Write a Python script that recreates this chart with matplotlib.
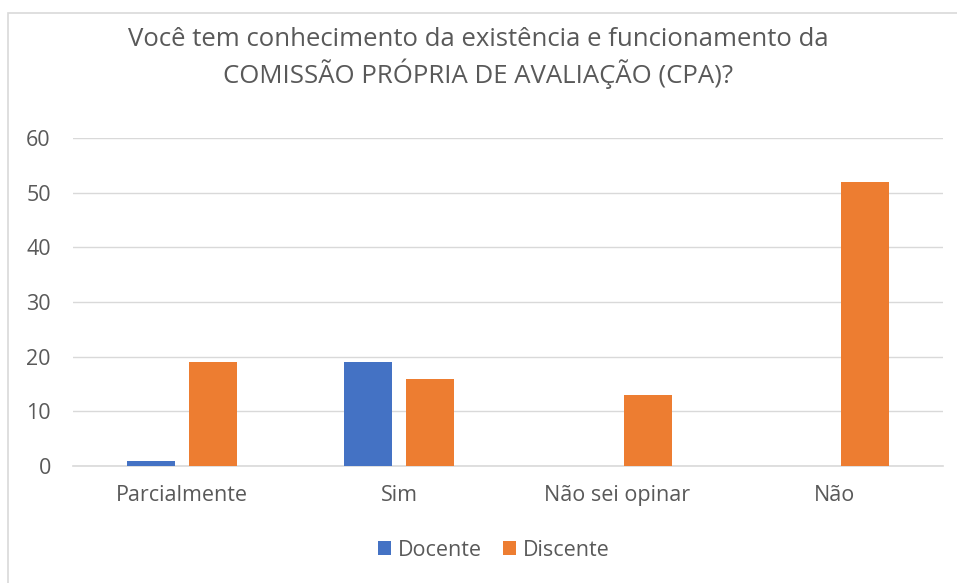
import matplotlib
matplotlib.use("Agg")
import matplotlib.pyplot as plt
import numpy as np
from matplotlib.patches import Rectangle

categories = ["Parcialmente", "Sim", "Não sei opinar", "Não"]
docente = [1, 19, 0, 0]
discente = [19, 16, 13, 52]
series_names = ["Docente", "Discente"]
colors = ["#4472C4", "#ED7D31"]
title = "Você tem conhecimento da existência e funcionamento da\nCOMISSÃO PRÓPRIA DE AVALIAÇÃO (CPA)?"

plt.rcParams['font.family'] = ['Open Sans', 'DejaVu Sans']
txt = "#595959"

fig = plt.figure(figsize=(9.57, 5.83), dpi=100)
fig.patches.append(Rectangle((8/957, -0.1), 1.1, 1 - 13/583 + 0.1, transform=fig.transFigure,
                             fill=False, edgecolor="#D9D9D9", linewidth=1.2))
ax = fig.add_axes([73/957, 1 - 466/583, (943 - 73)/957, (466 - 138)/583])

x = np.arange(len(categories))
w = 0.22
off = 0.142
ax.bar(x - off, docente, w, color=colors[0], label=series_names[0], zorder=3)
ax.bar(x + off, discente, w, color=colors[1], label=series_names[1], zorder=3)

ax.set_xlim(-0.5, len(categories) - 0.5)
ax.set_ylim(0, 60)
ax.set_yticks(range(0, 61, 10))
ax.yaxis.grid(True, color="#D9D9D9", linewidth=1, zorder=0)
ax.set_axisbelow(True)
for s in ["top", "right", "left"]:
    ax.spines[s].set_visible(False)
ax.spines["bottom"].set_color("#D9D9D9")
ax.spines["bottom"].set_linewidth(1.2)
ax.tick_params(axis="both", length=0, labelsize=15.5, colors=txt)
ax.tick_params(axis="y", pad=16)
ax.tick_params(axis="x", pad=14)
ax.set_xticks(x)
ax.set_xticklabels(categories)

fig.text(0.5, 1 - 58/583, title, ha="center", va="center", fontsize=18.5, color=txt,
         linespacing=1.3)

leg = fig.legend(loc="center", bbox_to_anchor=(494/957, 1 - 550/583), ncol=2, frameon=False,
                 fontsize=15.5, handlelength=0.6, handleheight=0.6, handletextpad=0.3,
                 columnspacing=1.0)
for t in leg.get_texts():
    t.set_color(txt)

fig.savefig("out.png", dpi=100)
